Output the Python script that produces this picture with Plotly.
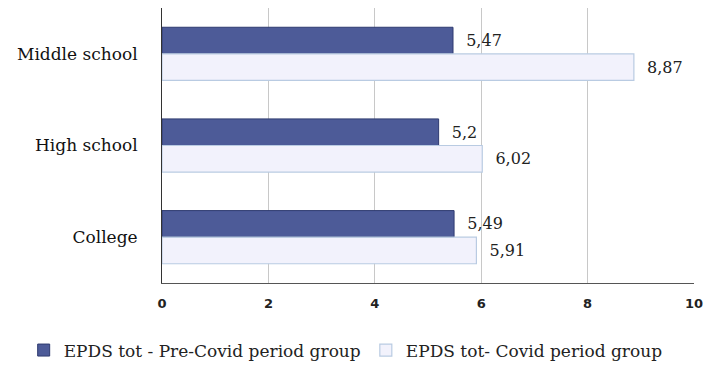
import plotly.graph_objects as go

categories = ["Middle school", "High school", "College"]
pre_covid = [5.47, 5.2, 5.49]
covid = [8.87, 6.02, 5.91]
pre_labels = ["5,47", "5,2", "5,49"]
covid_labels = ["8,87", "6,02", "5,91"]
series_names = ["EPDS tot - Pre-Covid period group", "EPDS tot- Covid period group"]
x_ticks = [0, 2, 4, 6, 8, 10]

serif = "DejaVu Serif"

fig = go.Figure()
fig.add_trace(go.Bar(
    y=categories, x=pre_covid, orientation="h", name=series_names[0],
    marker=dict(color="#4d5b98", line=dict(color="#2f3b70", width=1)),
    text=pre_labels, texttemplate="  %{text}", textposition="outside", cliponaxis=False,
    textfont=dict(family=serif, size=16, color="#222"),
))
fig.add_trace(go.Bar(
    y=categories, x=covid, orientation="h", name=series_names[1],
    marker=dict(color="#f2f2fc", line=dict(color="#b9cbe2", width=1.2)),
    text=covid_labels, texttemplate="  %{text}", textposition="outside", cliponaxis=False,
    textfont=dict(family=serif, size=16, color="#222"),
))

fig.update_layout(
    width=711, height=376,
    margin=dict(l=162, r=13, t=8, b=88),
    barmode="group", bargap=0.42, bargroupgap=0,
    plot_bgcolor="white", paper_bgcolor="white",
    showlegend=True,
    legend=dict(orientation="h", x=-0.26, xanchor="left", y=-0.18, yanchor="top",
                font=dict(family=serif, size=17, color="#222"),
                traceorder="normal", itemwidth=30),
    xaxis=dict(range=[0, 10], tickvals=x_ticks, ticktext=[str(v) for v in x_ticks],
               showgrid=True, gridcolor="#c8c8c8", gridwidth=1,
               showline=True, linecolor="#555", linewidth=1,
               zeroline=False, ticks="", ticklen=0, ticklabelstandoff=8,
               tickfont=dict(family="DejaVu Sans", size=13, color="#222", weight="bold")),
    yaxis=dict(categoryorder="array", categoryarray=categories, autorange="reversed",
               showline=True, linecolor="#333", linewidth=1, ticks="",
               ticklabelstandoff=20,
               tickfont=dict(family=serif, size=17, color="#111")),
)
fig.write_html("out.html")
